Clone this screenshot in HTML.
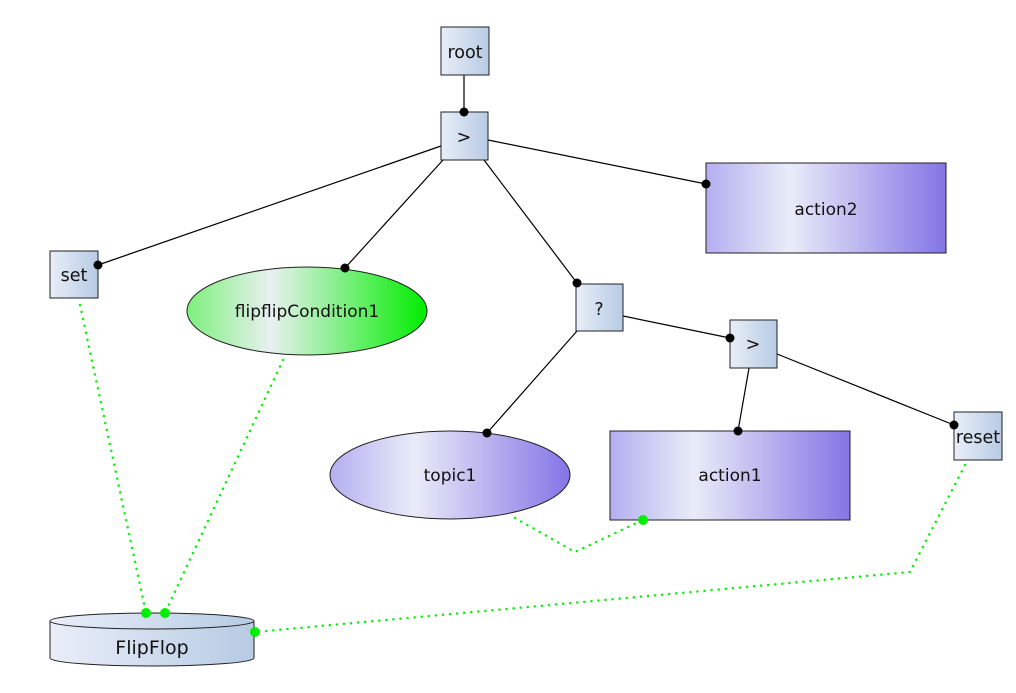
<!DOCTYPE html>
<html><head><meta charset="utf-8"><style>
html,body{margin:0;padding:0;background:#fff;width:1016px;height:693px;overflow:hidden}
text{font-family:"DejaVu Sans","Liberation Sans",sans-serif;fill:#111}
</style></head><body>
<svg width="1016" height="693" viewBox="0 0 1016 693" xmlns="http://www.w3.org/2000/svg">
<defs>
<linearGradient id="b" x1="0" x2="1" y1="0" y2="0"><stop offset="0" stop-color="#e9eef8"/><stop offset="1" stop-color="#b7cbe4"/></linearGradient>
<linearGradient id="p" x1="0" x2="1" y1="0" y2="0"><stop offset="0" stop-color="#b4aef0"/><stop offset="0.35" stop-color="#e9ecf8"/><stop offset="1" stop-color="#8474e6"/></linearGradient>
<linearGradient id="g" x1="0" x2="1" y1="0" y2="0"><stop offset="0" stop-color="#7cf07c"/><stop offset="0.35" stop-color="#e9f0f0"/><stop offset="1" stop-color="#00ee00"/></linearGradient>
</defs>
<g stroke="#000" stroke-width="1.2" fill="none">
<line x1="464" y1="75" x2="464" y2="112"/>
<line x1="488" y1="140" x2="706" y2="184"/>
<line x1="441" y1="146" x2="98" y2="265"/>
<line x1="443" y1="160" x2="345" y2="268"/>
<line x1="484" y1="160" x2="577" y2="283"/>
<line x1="623" y1="316" x2="730" y2="338"/>
<line x1="577" y1="331" x2="487" y2="433"/>
<line x1="749" y1="368" x2="738" y2="431"/>
<line x1="777" y1="354" x2="954" y2="425"/>
</g>
<g stroke="#11ee11" stroke-width="2.5" fill="none" stroke-dasharray="0.1 7" stroke-linecap="round">
<polyline points="80,305 146,613"/>
<polyline points="283,360 165,613"/>
<polyline points="515,518 575,552 643,520"/>
<polyline points="965,465 910,572 255,632"/>
</g>
<g stroke="#222" stroke-width="1">
<rect x="441" y="27" width="48" height="48" fill="url(#b)"/>
<rect x="441" y="112" width="47" height="48" fill="url(#b)"/>
<rect x="706" y="163" width="240" height="90" fill="url(#p)"/>
<rect x="50" y="251" width="48" height="47" fill="url(#b)"/>
<ellipse cx="307" cy="311" rx="120" ry="44" fill="url(#g)"/>
<rect x="576" y="284" width="47" height="47" fill="url(#b)"/>
<rect x="730" y="320" width="47" height="48" fill="url(#b)"/>
<ellipse cx="450" cy="475" rx="120" ry="44" fill="url(#p)"/>
<rect x="610" y="431" width="240" height="89" fill="url(#p)"/>
<rect x="954" y="412" width="48" height="48" fill="url(#b)"/>
<path d="M50,621 L50,658 A102,8 0 0 0 254,658 L254,621" fill="url(#b)"/>
<ellipse cx="152" cy="621" rx="102" ry="8" fill="url(#b)"/>
</g>
<g fill="#000">
<circle cx="464" cy="112" r="4.5"/><circle cx="706" cy="184" r="4.5"/><circle cx="98" cy="265" r="4.5"/>
<circle cx="345" cy="268" r="4.5"/><circle cx="577" cy="283" r="4.5"/><circle cx="730" cy="338" r="4.5"/>
<circle cx="487" cy="433" r="4.5"/><circle cx="738" cy="431" r="4.5"/><circle cx="954" cy="425" r="4.5"/>
</g>
<g fill="#00ee00">
<circle cx="146" cy="613" r="5"/><circle cx="165" cy="613" r="5"/><circle cx="643" cy="520" r="5"/><circle cx="255" cy="632" r="5"/>
</g>
<g text-anchor="middle">
<text x="465" y="58" font-size="17.5">root</text>
<text x="464" y="143" font-size="17.5">&gt;</text>
<text x="826" y="215" font-size="17">action2</text>
<text x="74" y="281" font-size="17.5">set</text>
<text x="307" y="317" font-size="17">flipflipCondition1</text>
<text x="599" y="315" font-size="17.5">?</text>
<text x="753" y="350" font-size="17.5">&gt;</text>
<text x="450" y="481" font-size="17">topic1</text>
<text x="730" y="481" font-size="17">action1</text>
<text x="978" y="443" font-size="17.5">reset</text>
<text x="152" y="654" font-size="19">FlipFlop</text>
</g>
</svg>
</body></html>
